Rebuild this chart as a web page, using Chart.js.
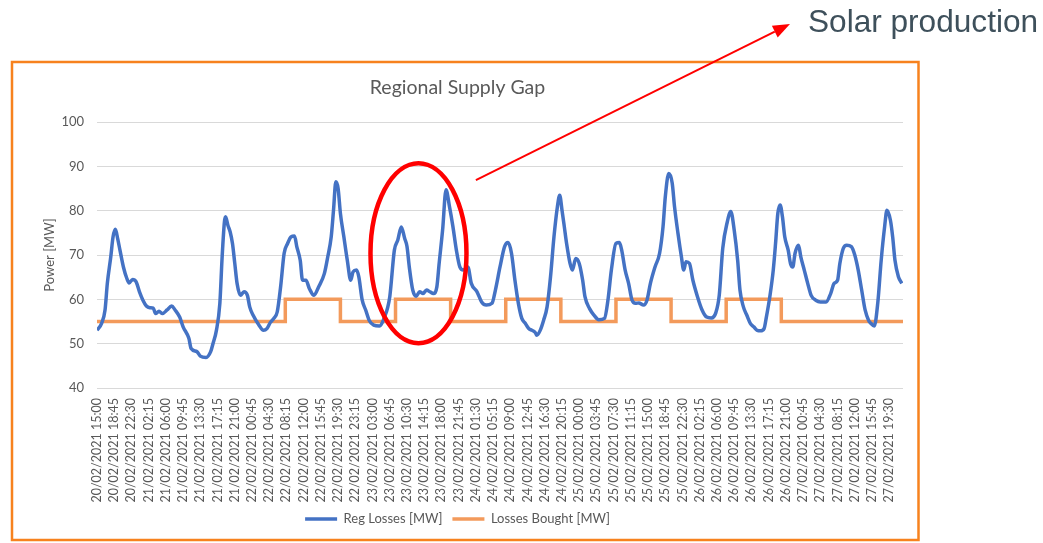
<!DOCTYPE html>
<html>
<head>
<meta charset="utf-8">
<script src="https://cdn.jsdelivr.net/npm/chart.js@4.4.1/dist/chart.umd.min.js"></script>
<style>
  html, body { margin: 0; padding: 0; background: #fff; }
  #wrap { position: relative; width: 1043px; height: 543px; }
  #note {
    position: absolute; left: 808px; top: 6px;
    font: 31.6px "Liberation Sans", Arial, sans-serif; line-height: 1;
    color: #3e505b; white-space: nowrap;
  }
</style>
</head>
<body>
<div id="wrap">
  <canvas id="supplyGap" width="1043" height="543"></canvas>
  <div id="note">Solar production</div>
</div>
<script>
// x is counted in quarter-hours from 20/02/2021 15:00
const tickLabels = [
  "20/02/2021 15:00", "20/02/2021 18:45", "20/02/2021 22:30", "21/02/2021 02:15",
  "21/02/2021 06:00", "21/02/2021 09:45", "21/02/2021 13:30", "21/02/2021 17:15",
  "21/02/2021 21:00", "22/02/2021 00:45", "22/02/2021 04:30", "22/02/2021 08:15",
  "22/02/2021 12:00", "22/02/2021 15:45", "22/02/2021 19:30", "22/02/2021 23:15",
  "23/02/2021 03:00", "23/02/2021 06:45", "23/02/2021 10:30", "23/02/2021 14:15",
  "23/02/2021 18:00", "23/02/2021 21:45", "24/02/2021 01:30", "24/02/2021 05:15",
  "24/02/2021 09:00", "24/02/2021 12:45", "24/02/2021 16:30", "24/02/2021 20:15",
  "25/02/2021 00:00", "25/02/2021 03:45", "25/02/2021 07:30", "25/02/2021 11:15",
  "25/02/2021 15:00", "25/02/2021 18:45", "25/02/2021 22:30", "26/02/2021 02:15",
  "26/02/2021 06:00", "26/02/2021 09:45", "26/02/2021 13:30", "26/02/2021 17:15",
  "26/02/2021 21:00", "27/02/2021 00:45", "27/02/2021 04:30", "27/02/2021 08:15",
  "27/02/2021 12:00", "27/02/2021 15:45", "27/02/2021 19:30"
];

// Reg Losses [MW]
const regT = [
  0, 4, 7, 9, 12, 14, 16, 18, 20, 23, 26, 28, 31, 34, 37, 40, 43, 46, 49, 51,
  54, 57, 61, 65, 68, 72, 75, 80, 82, 87, 90, 95, 99, 101, 104, 107, 109, 111, 112, 114,
  116, 118, 120, 122, 125, 128, 131, 133, 136, 141, 145, 148, 151, 154, 157, 160, 163, 166, 169, 172,
  174, 177, 179, 182, 185, 189, 193, 198, 201, 204, 206, 208, 210, 212, 215, 218, 221, 223, 226, 228,
  231, 234, 237, 241, 246, 250, 255, 259, 262, 265, 268, 270, 272, 275, 278, 281, 284, 287, 290, 293,
  296, 298, 301, 304, 307, 310, 313, 316, 319, 323, 326, 331, 335, 339, 344, 347, 351, 355, 358, 361,
  364, 367, 370, 373, 376, 379, 382, 383, 386, 389, 392, 395, 398, 401, 403, 405, 407, 409, 412, 414,
  417, 420, 423, 425, 429, 433, 437, 442, 445, 448, 452, 455, 457, 460, 463, 466, 469, 472, 476, 479,
  482, 486, 490, 493, 495, 498, 501, 503, 506, 509, 511, 513, 516, 519, 523, 527, 531, 535, 539, 542,
  545, 549, 552, 555, 558, 560, 563, 566, 569, 572, 575, 578, 581, 583, 586, 589, 591, 593, 595, 597,
  599, 602, 604, 606, 608, 611, 613, 616, 619, 622, 626, 630, 635, 639, 642, 645, 647, 650, 653, 657,
  660, 663, 666, 669, 672, 674, 677, 680, 683, 686, 688, 691, 693, 695, 698, 701
];
const regMW = [
  53.0, 54.6, 57.6, 63.6, 69.6, 74.1, 75.8, 73.7, 71.1, 67.3, 64.7, 63.7, 64.5, 64.0, 61.7, 59.8, 58.5, 58.1, 58.0, 56.8,
  57.3, 56.8, 57.6, 58.5, 57.6, 56.0, 53.8, 51.2, 48.9, 48.2, 47.2, 46.9, 48.2, 50.0, 53.0, 59.1, 69.6, 77.5, 78.6, 76.7,
  75.2, 72.6, 68.1, 63.6, 60.9, 61.7, 60.9, 58.3, 56.4, 54.2, 53.0, 53.4, 54.8, 55.7, 57.2, 63.0, 70.4, 72.6, 74.1, 74.3,
  71.9, 68.8, 64.3, 64.3, 62.4, 60.9, 62.8, 65.8, 69.6, 74.1, 80.1, 86.5, 85.0, 79.4, 74.1, 68.8, 64.3, 66.2, 66.6, 65.1,
  59.8, 57.6, 55.3, 54.2, 54.0, 55.7, 60.6, 71.1, 73.4, 76.3, 73.7, 71.9, 67.3, 62.1, 60.7, 61.7, 61.3, 62.1, 61.7, 61.3,
  62.8, 68.1, 75.6, 84.7, 80.9, 76.4, 71.1, 67.3, 66.6, 67.3, 63.6, 61.7, 59.4, 58.7, 59.1, 62.1, 67.3, 71.9, 72.8, 70.4,
  64.3, 59.1, 55.7, 54.6, 53.4, 53.0, 52.4, 51.9, 53.0, 55.3, 58.3, 65.1, 74.1, 80.9, 83.5, 80.1, 76.4, 72.6, 68.1, 66.6,
  69.2, 68.1, 64.3, 60.6, 57.9, 56.4, 55.4, 55.7, 59.8, 66.6, 72.6, 72.8, 71.1, 66.6, 63.6, 59.8, 59.1, 59.2, 58.7, 59.8,
  63.6, 67.3, 70.4, 76.4, 83.2, 88.4, 86.2, 80.9, 74.9, 69.6, 66.6, 68.5, 68.1, 64.3, 60.6, 57.6, 56.0, 55.8, 57.0, 61.0,
  71.5, 77.5, 79.8, 75.6, 68.8, 62.1, 58.3, 56.4, 54.6, 53.8, 53.0, 52.9, 53.4, 56.0, 60.6, 66.6, 72.6, 79.4, 81.3, 78.6,
  74.1, 71.1, 68.1, 67.3, 70.4, 72.2, 69.6, 66.6, 63.6, 60.9, 59.8, 59.4, 59.4, 61.3, 63.6, 64.3, 68.1, 71.5, 72.2, 71.9,
  70.0, 66.6, 62.1, 57.6, 55.3, 54.6, 54.0, 59.1, 68.8, 76.4, 80.1, 77.9, 74.1, 68.8, 65.1, 63.6
];

// Losses Bought [MW], value holds from each change point onward
const boughtT = [0, 164, 212, 260, 308, 356, 404, 452, 500, 548, 596, 702];
const boughtMW = [55, 60, 55, 60, 55, 60, 55, 60, 55, 60, 55, 55];

const xMax = 702;
const circleAt = [280, 70.4];   // centre of the red ellipse (x index, MW)
const arrowFrom = [330, 86.9];  // arrow tail (x index, MW)

const grey = "#595959";
Chart.defaults.font.family = "Lato, 'Open Sans', sans-serif";
Chart.defaults.color = grey;

const pairs = (xs, ys) => xs.map((x, i) => ({ x: x, y: ys[i] }));

const annotations = {
  id: "annotations",
  afterDraw(chart) {
    const { ctx, scales: { x, y } } = chart;
    ctx.save();
    // chart frame
    ctx.strokeStyle = "#F7821E";
    ctx.lineWidth = 2.5;
    ctx.strokeRect(12, 62, 906.5, 478);
    // ellipse round the 23/02 dip
    ctx.strokeStyle = "#FF0000";
    ctx.lineWidth = 4.5;
    ctx.beginPath();
    ctx.ellipse(x.getPixelForValue(circleAt[0]), y.getPixelForValue(circleAt[1]), 48, 90, 0, 0, Math.PI * 2);
    ctx.stroke();
    // arrow to the note
    const x0 = x.getPixelForValue(arrowFrom[0]), y0 = y.getPixelForValue(arrowFrom[1]);
    const x1 = 790, y1 = 24;
    const a = Math.atan2(y1 - y0, x1 - x0);
    const len = 17, half = 6.5;
    const bx = x1 - len * Math.cos(a), by = y1 - len * Math.sin(a);
    ctx.lineWidth = 2;
    ctx.beginPath();
    ctx.moveTo(x0, y0);
    ctx.lineTo(bx, by);
    ctx.stroke();
    ctx.fillStyle = "#FF0000";
    ctx.beginPath();
    ctx.moveTo(x1, y1);
    ctx.lineTo(bx + half * Math.sin(a), by - half * Math.cos(a));
    ctx.lineTo(bx - half * Math.sin(a), by + half * Math.cos(a));
    ctx.closePath();
    ctx.fill();
    ctx.restore();
  }
};

new Chart(document.getElementById("supplyGap").getContext("2d"), {
  type: "line",
  data: {
    datasets: [
      {
        label: "Reg Losses [MW]",
        data: pairs(regT, regMW),
        borderColor: "#4472C4",
        backgroundColor: "#4472C4",
        borderWidth: 3.5,
        pointRadius: 0,
        cubicInterpolationMode: "monotone",
      },
      {
        label: "Losses Bought [MW]",
        data: pairs(boughtT, boughtMW),
        borderColor: "#F39A5B",
        backgroundColor: "#F39A5B",
        borderWidth: 3.5,
        pointRadius: 0,
        stepped: true,
      },
    ],
  },
  options: {
    responsive: false,
    animation: false,
    layout: { padding: { left: 12, right: 140, top: 63, bottom: 7.5 } },
    plugins: {
      title: {
        display: true,
        text: "Regional Supply Gap",
        color: grey,
        font: { size: 19.5, weight: "normal" },
        padding: { top: 13.3, bottom: 22.3 },
      },
      legend: {
        position: "bottom",
        labels: {
          usePointStyle: true,
          pointStyle: "line",
          pointStyleWidth: 32,
          color: grey,
          font: { size: 13 },
          padding: 10,
        },
      },
      tooltip: { enabled: false },
    },
    scales: {
      x: {
        type: "linear",
        min: 0,
        max: xMax,
        grid: { display: false, drawTicks: false },
        border: { display: false },
        ticks: {
          stepSize: 15,
          autoSkip: false,
          includeBounds: false,
          maxRotation: 90,
          minRotation: 90,
          padding: 10,
          color: grey,
          font: { size: 12.5 },
          callback: (v) => tickLabels[v / 15],
        },
        afterFit: (s) => { s.height = 114.5; },
      },
      y: {
        min: 40,
        max: 100,
        grid: { color: "#D9D9D9", drawTicks: false },
        border: { display: false },
        ticks: { stepSize: 10, padding: 13, color: grey, font: { size: 13 } },
        title: {
          display: true,
          text: "Power [MW]",
          color: grey,
          font: { size: 13 },
          padding: { top: 30 },
        },
        afterFit: (s) => { s.width = 85; },
      },
    },
  },
  plugins: [annotations],
});
</script>
</body>
</html>
